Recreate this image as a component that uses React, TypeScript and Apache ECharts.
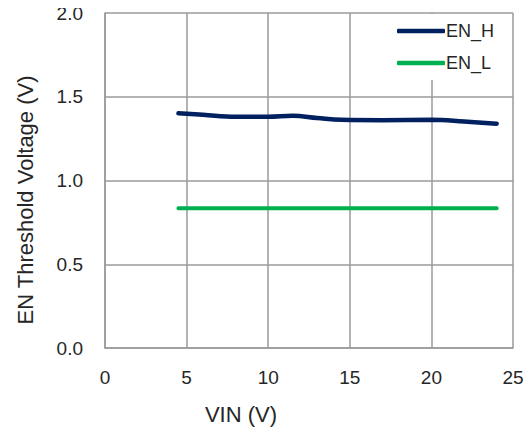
import React, { useEffect, useRef } from "react";
import * as echarts from "echarts";

const vinH = [4.5, 6, 8, 10, 11.5, 13, 14.5, 17, 20, 22, 24];
const enH = [1.401, 1.392, 1.38, 1.38, 1.386, 1.373, 1.362, 1.36, 1.362, 1.352, 1.339];
const vinL = [4.5, 8, 12, 16, 20, 24];
const enL = [0.834, 0.834, 0.834, 0.834, 0.834, 0.834];
const seriesNames = ["EN_H", "EN_L"];
const seriesColors = ["#002060", "#00B050"];
const xTitle = "VIN (V)";
const yTitle = "EN Threshold Voltage (V)";

export default function App() {
  const ref = useRef<HTMLDivElement>(null);
  useEffect(() => {
    if (!ref.current) return;
    const chart = echarts.init(ref.current, null, { renderer: "svg" });
    const font = "Liberation Sans";
    const textColor = "#262626";
    chart.setOption({
      animation: false,
      backgroundColor: "#ffffff",
      grid: { left: 105, right: 18, top: 13, bottom: 87 },
      legend: {
        orient: "vertical",
        left: 389,
        top: 14,
        backgroundColor: "#ffffff",
        padding: [8, 8, 8, 8],
        itemWidth: 48,
        itemHeight: 4.5,
        itemGap: 14,
        icon: "roundRect",
        textStyle: {
          fontFamily: font,
          fontSize: 18,
          lineHeight: 18,
          color: textColor,
          padding: [0, 0, 0, -4],
        },
        data: seriesNames,
      },
      graphic: [
        {
          type: "text",
          x: 25,
          y: 200,
          rotation: Math.PI / 2,
          style: {
            text: yTitle,
            fontFamily: font,
            fontSize: 22,
            fill: textColor,
            align: "center",
            verticalAlign: "middle",
          },
        },
        {
          type: "text",
          x: 241,
          y: 414,
          style: {
            text: xTitle,
            fontFamily: font,
            fontSize: 22,
            fill: textColor,
            align: "center",
            verticalAlign: "middle",
          },
        },
      ],
      xAxis: {
        type: "value",
        min: 0,
        max: 25,
        interval: 5,
        axisLine: { show: true, lineStyle: { color: "#9a9a9a", width: 1.5 } },
        axisTick: { show: false },
        axisLabel: { fontFamily: font, fontSize: 19, color: textColor, margin: 20 },
        splitLine: { show: true, lineStyle: { color: "#9a9a9a", width: 1.5 } },
      },
      yAxis: {
        type: "value",
        min: 0,
        max: 2,
        interval: 0.5,
        axisLine: { show: true, lineStyle: { color: "#9a9a9a", width: 1.5 } },
        axisTick: { show: false },
        axisLabel: {
          fontFamily: font,
          fontSize: 19,
          color: textColor,
          margin: 22,
          formatter: (v: number) => v.toFixed(1),
        },
        splitLine: { show: true, lineStyle: { color: "#9a9a9a", width: 1.5 } },
      },
      series: [
        {
          name: seriesNames[0],
          type: "line",
          smooth: 0.4,
          showSymbol: false,
          symbol: "none",
          color: seriesColors[0],
          lineStyle: { width: 4.5, cap: "round" },
          data: vinH.map((x, i) => [x, enH[i]]),
        },
        {
          name: seriesNames[1],
          type: "line",
          smooth: true,
          showSymbol: false,
          symbol: "none",
          color: seriesColors[1],
          lineStyle: { width: 4, cap: "round" },
          data: vinL.map((x, i) => [x, enL[i]]),
        },
      ],
    });
    return () => chart.dispose();
  }, []);
  return <div ref={ref} style={{ width: 531, height: 435, margin: -8 }} />;
}
